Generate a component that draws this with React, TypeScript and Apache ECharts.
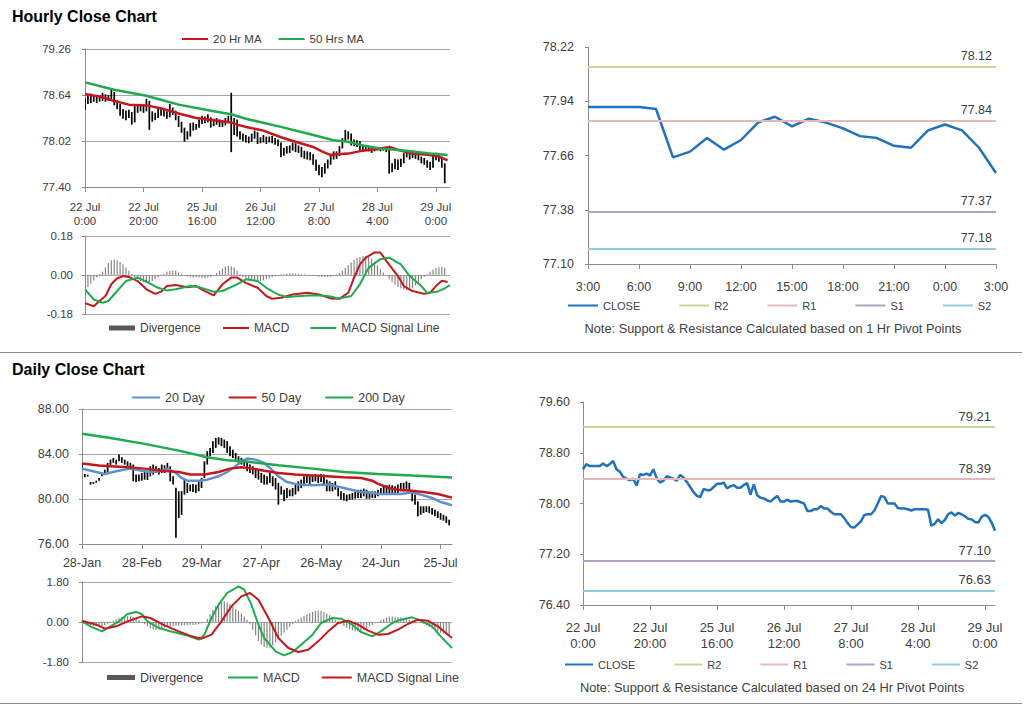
import React, { useEffect, useRef } from "react";
import * as echarts from "echarts";

const FONT = '"Liberation Sans", Arial, Helvetica, sans-serif';
const TXT = "#404040";
const AXIS_C = "#8c8c8c";
const GRID_C = "#a6a6a6";

// ---------- tick labels ----------
const hourlyTickIdx = [0, 20, 40, 60, 80, 100, 120];
const hourlyTickLabels = ["22 Jul\n0:00", "22 Jul\n20:00", "25 Jul\n16:00", "26 Jul\n12:00", "27 Jul\n8:00", "28 Jul\n4:00", "29 Jul\n0:00"];
const lastDayTickLabels = ["3:00", "6:00", "9:00", "12:00", "15:00", "18:00", "21:00", "0:00", "3:00"];
const dailyTickIdx = [0, 21, 42, 63, 84, 105, 126];
const dailyTickLabels = ["28-Jan", "28-Feb", "29-Mar", "27-Apr", "26-May", "24-Jun", "25-Jul"];
const hourlyPriceTicks = [77.4, 78.02, 78.64, 79.26];
const lastDayPriceTicks = [77.1, 77.38, 77.66, 77.94, 78.22];
const hourlyClosePriceTicks = [76.4, 77.2, 78.0, 78.8, 79.6];

// ---------- pivots ----------
const pivotNames = ["R2", "R1", "S1", "S2"];
const pivotColors = ["#c3d69b", "#e6b9b8", "#b3a2c7", "#93cddd"];
const hourPivotValues = [78.12, 77.84, 77.37, 77.18];
const dayPivotValues = [79.21, 78.39, 77.1, 76.63];

// ---------- hourly data (22 Jul 0:00 = index 0) ----------
const lastDayStart = 99; // 28 Jul 3:00
const hourlyClose = [
  78.54, 78.62, 78.59, 78.59, 78.59, 78.59, 78.63, 78.59, 78.62, 78.67,
  78.54, 78.50, 78.42, 78.39, 78.37, 78.39, 78.28, 78.46, 78.45, 78.47,
  78.44, 78.54, 78.40, 78.33, 78.36, 78.43, 78.41, 78.39, 78.36, 78.45,
  78.41, 78.34, 78.26, 78.18, 78.12, 78.10, 78.23, 78.21, 78.21, 78.26,
  78.31, 78.31, 78.33, 78.24, 78.27, 78.29, 78.25, 78.25, 78.29, 78.32,
  78.14, 78.30, 78.13, 78.09, 78.08, 78.05, 78.03, 78.08, 78.12, 78.03,
  78.03, 78.06, 78.03, 78.04, 78.04, 78.02, 78.00, 77.88, 77.88, 77.91,
  77.91, 77.96, 77.92, 77.92, 77.87, 77.83, 77.83, 77.83, 77.77, 77.69,
  77.63, 77.62, 77.67, 77.72, 77.82, 77.83, 77.83, 77.89, 78.00, 78.12,
  78.10, 78.00, 78.00, 78.00, 77.93, 77.92, 77.92, 77.91, 77.89, 77.91,
  77.91, 77.91, 77.91, 77.90, 77.65, 77.68, 77.75, 77.69, 77.74, 77.83,
  77.86, 77.81, 77.85, 77.83, 77.80, 77.76, 77.75, 77.71, 77.70, 77.79,
  77.82, 77.79, 77.70, 77.57,
];
const hourlyLow = [
  78.44, 78.52, 78.53, 78.55, 78.53, 78.55, 78.56, 78.55, 78.56, 78.58,
  78.50, 78.45, 78.36, 78.32, 78.30, 78.33, 78.24, 78.27, 78.40, 78.42,
  78.40, 78.42, 78.17, 78.28, 78.30, 78.33, 78.36, 78.35, 78.32, 78.34,
  78.37, 78.30, 78.21, 78.13, 78.01, 78.04, 78.08, 78.16, 78.17, 78.20,
  78.25, 78.26, 78.27, 78.20, 78.22, 78.24, 78.21, 78.21, 78.23, 78.26,
  77.87, 78.10, 78.08, 78.04, 78.02, 78.00, 77.99, 78.01, 78.05, 77.98,
  77.99, 78.00, 77.98, 78.00, 77.99, 77.97, 77.95, 77.80, 77.82, 77.85,
  77.86, 77.89, 77.87, 77.86, 77.80, 77.78, 77.77, 77.76, 77.70, 77.62,
  77.56, 77.53, 77.58, 77.65, 77.70, 77.77, 77.78, 77.82, 77.92, 78.02,
  78.04, 77.96, 77.95, 77.94, 77.90, 77.89, 77.89, 77.88, 77.86, 77.88,
  77.89, 77.88, 77.89, 77.87, 77.58, 77.60, 77.64, 77.63, 77.67, 77.72,
  77.80, 77.77, 77.79, 77.78, 77.76, 77.72, 77.70, 77.66, 77.63, 77.66,
  77.76, 77.74, 77.66, 77.45,
];
const hourlyHigh = [
  78.60, 78.66, 78.66, 78.63, 78.64, 78.63, 78.67, 78.65, 78.64, 78.71,
  78.68, 78.57, 78.52, 78.45, 78.43, 78.44, 78.41, 78.49, 78.50, 78.52,
  78.50, 78.59, 78.56, 78.42, 78.40, 78.47, 78.46, 78.44, 78.42, 78.52,
  78.47, 78.43, 78.36, 78.28, 78.20, 78.15, 78.26, 78.27, 78.25, 78.31,
  78.36, 78.35, 78.38, 78.34, 78.32, 78.33, 78.31, 78.30, 78.33, 78.36,
  78.67, 78.33, 78.31, 78.15, 78.12, 78.10, 78.08, 78.12, 78.16, 78.14,
  78.07, 78.10, 78.08, 78.08, 78.09, 78.06, 78.04, 78.00, 77.93, 77.95,
  77.96, 78.00, 77.99, 77.96, 77.94, 77.89, 77.88, 77.87, 77.84, 77.77,
  77.70, 77.67, 77.72, 77.77, 77.85, 77.88, 77.88, 77.95, 78.06, 78.17,
  78.15, 78.12, 78.04, 78.03, 78.02, 77.97, 77.96, 77.95, 77.94, 77.94,
  77.94, 77.94, 77.94, 77.94, 77.92, 77.72, 77.78, 77.77, 77.78, 77.86,
  77.90, 77.88, 77.89, 77.88, 77.85, 77.81, 77.79, 77.76, 77.74, 77.82,
  77.86, 77.83, 77.81, 77.72,
];
const ma20Hourly = [
  [0, 78.65], [5, 78.62], [10, 78.56], [15, 78.51], [21, 78.5], [27, 78.45], [32, 78.39],
  [38, 78.33], [44, 78.3], [50, 78.27], [52, 78.24], [55, 78.21], [61, 78.16], [67, 78.07],
  [72, 78.01], [78, 77.94], [81, 77.88], [84, 77.83], [86, 77.84], [90, 77.85], [95, 77.89],
  [101, 77.92], [104, 77.94], [108, 77.89], [112, 77.85], [118, 77.83], [121, 77.81], [124, 77.76],
];
const ma50Hourly = [
  [0, 78.81], [10, 78.71], [21, 78.63], [32, 78.51], [44, 78.42], [50, 78.38], [55, 78.32],
  [67, 78.21], [78, 78.1], [85, 78.03], [90, 78.01], [95, 77.96], [101, 77.92], [107, 77.9],
  [112, 77.88], [118, 77.85], [124, 77.83],
];
const macdHourly = [
  [0, -0.13], [3, -0.144], [5, -0.12], [7, -0.097], [9, -0.043], [11, -0.015], [13, -0.005],
  [15, -0.009], [18, -0.028], [21, -0.066], [24, -0.087], [26, -0.077], [28, -0.051], [31, -0.046],
  [35, -0.056], [38, -0.051], [41, -0.074], [44, -0.094], [47, -0.043], [50, -0.012], [52, -0.012],
  [55, -0.036], [59, -0.059], [62, -0.097], [64, -0.11], [67, -0.105], [71, -0.09], [76, -0.082],
  [80, -0.09], [84, -0.108], [87, -0.11], [90, -0.082], [92, -0.012], [94, 0.049], [96, 0.08],
  [99, 0.104], [101, 0.104], [103, 0.065], [107, -0.005], [109, -0.051], [112, -0.074],
  [116, -0.087], [118, -0.082], [120, -0.051], [122, -0.027], [124, -0.032],
];
const signalHourly = [
  [0, -0.066], [3, -0.113], [6, -0.128], [8, -0.12], [11, -0.074], [14, -0.028], [18, -0.012],
  [21, -0.031], [25, -0.059], [28, -0.071], [31, -0.066], [36, -0.051], [39, -0.056], [44, -0.077],
  [47, -0.074], [52, -0.043], [55, -0.02], [59, -0.028], [62, -0.059], [66, -0.09], [69, -0.102],
  [74, -0.097], [78, -0.093], [83, -0.097], [87, -0.108], [91, -0.097], [94, -0.043], [97, 0.034],
  [101, 0.073], [104, 0.08], [108, 0.049], [111, -0.005], [115, -0.051], [117, -0.082],
  [120, -0.079], [123, -0.062], [124.8, -0.046],
];
const divergenceHourly = [
  -0.065, -0.055, -0.04, -0.025, -0.01, 0.005, 0.015, 0.035, 0.055, 0.068,
  0.072, 0.068, 0.06, 0.05, 0.035, 0.02, 0.005, -0.01, -0.02, -0.028,
  -0.033, -0.036, -0.033, -0.028, -0.02, -0.012, -0.005, 0.005, 0.015, 0.02,
  0.022, 0.02, 0.012, 0.004, -0.004, -0.008, -0.01, -0.012, -0.01, -0.012,
  -0.014, -0.015, -0.012, -0.008, -0.002, 0.008, 0.02, 0.03, 0.038, 0.042,
  0.04, 0.035, 0.02, 0.005, -0.008, -0.015, -0.022, -0.025, -0.028, -0.03,
  -0.028, -0.025, -0.02, -0.015, -0.01, -0.006, -0.003, 0.002, 0.004, 0.006,
  0.008, 0.008, 0.006, 0.005, 0.003, 0.002, -0.002, -0.004, -0.005, -0.006,
  -0.008, -0.009, -0.01, -0.01, -0.008, -0.004, 0.002, 0.01, 0.02, 0.032,
  0.045, 0.058, 0.07, 0.078, 0.083, 0.086, 0.086, 0.083, 0.075, 0.062,
  0.045, 0.028, 0.012, -0.005, -0.02, -0.033, -0.045, -0.055, -0.062, -0.068,
  -0.07, -0.068, -0.06, -0.048, -0.035, -0.02, -0.008, 0.005, 0.015, 0.025,
  0.032, 0.036, 0.037, 0.033,
];

// ---------- daily data (28-Jan = index 0) ----------
const dailyLow = [
  82.61, 81.93, 81.99, 81.28, 81.34, 81.45, 81.63, 82.02, 82.17, 82.31,
  82.91, 83.21, 83.06, 83.35, 83.21, 83.06, 82.91, 82.70, 81.57, 81.51,
  81.57, 81.63, 81.72, 81.69, 82.02, 82.17, 82.31, 82.17, 82.31, 82.31,
  82.46, 81.57, 81.28, 76.55, 78.30, 78.60, 80.39, 80.53, 80.68, 80.62,
  80.53, 80.68, 80.98, 81.87, 83.06, 83.80, 84.10, 84.54, 84.84, 84.69,
  84.54, 84.10, 83.80, 83.65, 83.50, 83.21, 83.06, 82.91, 82.46, 82.31,
  82.17, 81.87, 81.72, 81.43, 81.28, 81.28, 81.43, 81.13, 80.83, 79.50,
  80.39, 79.79, 80.09, 80.24, 80.24, 80.39, 80.68, 80.98, 81.13, 81.43,
  81.28, 81.51, 81.57, 81.43, 81.51, 81.28, 80.68, 80.68, 80.68, 80.83,
  80.24, 79.94, 79.85, 79.79, 79.94, 79.94, 80.03, 80.09, 80.09, 80.24,
  80.03, 80.03, 80.09, 80.09, 80.24, 80.39, 80.39, 80.53, 80.53, 80.53,
  80.45, 80.53, 80.68, 80.68, 80.83, 80.68, 79.79, 79.50, 78.46, 78.60,
  78.75, 78.84, 78.75, 78.60, 78.46, 78.31, 78.16, 78.07, 77.86, 77.66,
];
const dailyHigh = [
  83.21, 82.23, 82.17, 81.51, 81.51, 81.63, 81.87, 82.31, 82.61, 83.21,
  83.50, 83.65, 83.50, 83.95, 83.71, 83.50, 83.35, 83.21, 83.06, 82.17,
  82.17, 82.31, 82.46, 82.40, 82.91, 83.06, 82.91, 82.76, 83.06, 83.00,
  83.21, 82.91, 82.02, 81.00, 80.68, 80.70, 81.72, 81.43, 81.28, 81.34,
  81.28, 81.51, 81.87, 83.35, 84.25, 84.54, 85.14, 85.43, 85.49, 85.43,
  85.28, 85.14, 84.69, 84.39, 84.10, 83.80, 83.65, 83.35, 83.35, 83.06,
  82.91, 82.76, 82.61, 82.31, 82.17, 82.02, 82.31, 82.02, 81.87, 81.43,
  81.13, 80.83, 80.98, 80.83, 80.98, 81.28, 81.57, 81.72, 82.02, 82.17,
  82.02, 82.17, 82.23, 82.17, 82.23, 82.17, 81.72, 81.57, 81.43, 81.57,
  81.13, 80.68, 80.53, 80.39, 80.44, 80.53, 80.68, 80.83, 80.83, 80.92,
  80.83, 80.68, 80.68, 80.68, 80.83, 80.98, 81.13, 81.22, 81.28, 81.22,
  81.13, 81.28, 81.43, 81.43, 81.57, 81.43, 80.68, 80.39, 79.79, 79.35,
  79.35, 79.35, 79.35, 79.20, 79.05, 78.90, 78.75, 78.60, 78.46, 78.16,
];
const ma20Daily = [
  [0, 82.7], [5, 82.4], [8, 82.23], [12, 82.46], [15, 82.61], [17, 82.7], [21, 82.52], [24, 82.4],
  [28, 82.52], [30, 82.7], [33, 82.31], [35, 81.87], [37, 81.63], [41, 81.63], [44, 81.72],
  [48, 82.02], [51, 82.4], [54, 82.91], [56, 83.35], [58, 83.59], [61, 83.5], [64, 83.21],
  [66, 82.76], [69, 82.02], [72, 81.51], [76, 81.28], [81, 81.22], [87, 81.28], [92, 80.98],
  [98, 80.62], [102, 80.53], [105, 80.45], [109, 80.45], [112, 80.45], [116, 80.59],
  [119, 80.39], [123, 80.09], [126, 79.73], [130, 79.45],
];
const ma50Daily = [
  [0, 83.15], [6, 82.97], [10, 82.91], [16, 82.82], [22, 82.7], [28, 82.52], [34, 82.4],
  [38, 82.17], [43, 82.17], [48, 82.4], [52, 82.7], [56, 82.82], [60, 82.7], [64, 82.52],
  [69, 82.31], [75, 82.17], [81, 82.08], [86, 82.02], [92, 81.93], [98, 81.87], [102, 81.63],
  [104, 81.34], [108, 80.98], [111, 80.83], [116, 80.74], [120, 80.62], [125, 80.45], [130, 80.12],
];
const ma200Daily = [
  [0, 85.79], [10, 85.43], [22, 84.9], [34, 84.3], [44, 83.71], [51, 83.44], [57, 83.35],
  [69, 83.0], [81, 82.7], [92, 82.4], [104, 82.23], [116, 82.08], [130, 81.92],
];
const macdDaily = [
  [0, 0.03], [3, -0.195], [7, -0.42], [9, -0.27], [13, 0.03], [16, 0.36], [19, 0.45], [21, 0.36],
  [23, 0.03], [27, -0.27], [31, -0.42], [36, -0.57], [41, -0.795], [43, -0.57], [45.5, 0.18],
  [48, 0.78], [51, 1.305], [55, 1.605], [57, 1.455], [59.5, 0.78], [62, -0.12], [64, -0.72],
  [68, -1.32], [71, -1.5], [74, -1.35], [77, -1.02], [81, -0.57], [84, -0.045], [88, 0.18],
  [91, 0.15], [95, -0.12], [98, -0.45], [102, -0.645], [105, -0.42], [109, -0.045], [112, 0.105],
  [116, 0.21], [119, 0.06], [123, -0.195], [126, -0.645], [130, -1.17],
];
const signalDaily = [
  [0, 0.06], [5, -0.12], [8, -0.3], [12, -0.195], [16, 0.03], [21, 0.255], [24, 0.18], [29, -0.15],
  [34, -0.42], [38.5, -0.645], [42, -0.75], [45.5, -0.57], [49, 0.03], [52.5, 0.705], [56, 1.155],
  [59, 1.305], [62, 1.005], [65.5, 0.18], [69, -0.72], [72.5, -1.17], [76, -1.35], [79.5, -1.245],
  [83, -0.87], [86.5, -0.42], [90, -0.045], [93.5, 0.06], [97, -0.12], [100.5, -0.39], [104, -0.57],
  [107.5, -0.54], [111, -0.345], [114.5, -0.09], [118, 0.105], [121.5, 0.06], [125, -0.195],
  [130, -0.72],
];
const divergenceDaily = [
  -0.02, -0.06, -0.1, -0.14, -0.17, -0.19, -0.2, -0.18, -0.14, -0.08,
  0.0, 0.06, 0.12, 0.18, 0.22, 0.25, 0.26, 0.25, 0.22, 0.16, 0.08, 0.0,
  -0.1, -0.2, -0.28, -0.33, -0.35, -0.34, -0.3, -0.26, -0.22, -0.2, -0.18, -0.17, -0.17, -0.16,
  -0.15, -0.15, -0.14, -0.13, -0.12, -0.1, -0.06, 0.0,
  0.15, 0.35, 0.55, 0.72, 0.85, 0.92, 0.93, 0.88, 0.8, 0.7, 0.6, 0.5, 0.38, 0.25, 0.1,
  -0.1, -0.35, -0.6, -0.85, -1.02, -1.12, -1.17, -1.15, -1.05, -0.92, -0.78, -0.62, -0.48, -0.35, -0.22, -0.1,
  0.05, 0.12, 0.2, 0.28, 0.35, 0.4, 0.45, 0.5, 0.52, 0.5, 0.45, 0.38, 0.3, 0.2, 0.1, 0.02,
  -0.08, -0.18, -0.26, -0.33, -0.38, -0.42, -0.42, -0.4, -0.35, -0.28, -0.2, -0.13, -0.06, 0.0,
  0.08, 0.15, 0.2, 0.24, 0.25, 0.24, 0.22, 0.2, 0.17, 0.14, 0.1, 0.07, 0.04, 0.01, -0.02,
  -0.08, -0.15, -0.22, -0.3, -0.36, -0.42, -0.48, -0.52, -0.56, -0.6,
];

// ---------- colours ----------
const RED = "#c8161d";
const GREEN = "#1faa4f";
const BLUE_MA = "#5e8fd0";
const CLOSE_C = "#1f72bb";

// ---------- helpers ----------
const labelStyle = (size: number) => ({ color: TXT, fontSize: size, fontFamily: FONT });

function buildOption(): any {
  const barRender = (_p: any, api: any) => {
    const x = api.value(0);
    const lo = api.coord([x, api.value(1)]);
    const hi = api.coord([x, api.value(2)]);
    return {
      type: "line",
      shape: { x1: lo[0], y1: lo[1], x2: hi[0], y2: hi[1] },
      style: { stroke: "#000", lineWidth: 1.7 },
    };
  };
  const divRender = (_p: any, api: any) => {
    const x = api.value(0);
    const p0 = api.coord([x, 0]);
    const p1 = api.coord([x, api.value(1)]);
    return {
      type: "rect",
      shape: { x: p0[0] - 0.6, y: Math.min(p0[1], p1[1]), width: 1.2, height: Math.max(0.5, Math.abs(p1[1] - p0[1])) },
      style: { fill: "#858585" },
    };
  };
  const lineS = (name: string, gi: number, data: any[], color: string, width: number, z = 3) => ({
    name, type: "line", xAxisIndex: gi, yAxisIndex: gi, data, symbol: "none", showSymbol: false,
    color, lineStyle: { color, width }, z, clip: true,
  });
  const pivotSeries = (gi: number, suffix: string, values: number[], size: number) =>
    pivotNames.map((n, k) => ({
      name: n + suffix, type: "line", xAxisIndex: gi, yAxisIndex: gi, data: [], color: pivotColors[k],
      lineStyle: { color: pivotColors[k], width: 2 },
      markLine: {
        silent: true, symbol: ["none", "none"],
        data: [{ yAxis: values[k] }],
        lineStyle: { color: pivotColors[k], width: 2, type: "solid" },
        label: { show: true, position: "insideEndTop", formatter: values[k].toFixed(2), distance: [4, 4], ...labelStyle(size) },
      },
    }));

  const xValAxis = (gi: number, min: number, max: number, ticks: number[] | null, fmt: ((v: number) => string) | null, size: number, margin: number, lineHeight: number, show = true) => ({
    type: "value", gridIndex: gi, min, max,
    axisLine: { show, onZero: false, lineStyle: { color: AXIS_C } },
    axisTick: { show, length: 5, lineStyle: { color: AXIS_C }, ...(ticks ? { customValues: ticks } : {}) },
    axisLabel: { show: show && !!fmt, ...(ticks ? { customValues: ticks } : {}), formatter: fmt || undefined, margin, lineHeight, ...labelStyle(size) },
    splitLine: { show: false },
  });
  const yValAxis = (gi: number, min: number, max: number, ticks: number[] | null, interval: number | null, split: boolean, size: number, margin: number) => ({
    type: "value", gridIndex: gi, min, max, ...(interval ? { interval } : {}),
    axisLine: { show: true, onZero: false, lineStyle: { color: AXIS_C } },
    axisTick: { show: true, length: 3, lineStyle: { color: AXIS_C }, ...(ticks ? { customValues: ticks } : {}) },
    axisLabel: { ...(ticks ? { customValues: ticks } : {}), formatter: (v: number) => v.toFixed(2), margin, ...labelStyle(size) },
    splitLine: { show: split, lineStyle: { color: GRID_C, width: 1 } },
  });

  const strip = (n: string) => n.split("|")[0];
  const lineLegend = (left: number, top: number, data: string[], gap: number, w: number, size: number) => ({
    left, top, padding: 0, data, icon: "rect", itemWidth: w, itemHeight: 2, itemGap: gap, selectedMode: false,
    itemStyle: { borderWidth: 0 }, formatter: strip, textStyle: labelStyle(size),
  });
  const divLegend = (left: number, top: number, name: string, w: number, size: number) => ({
    left, top, padding: 0, data: [name], icon: "rect", itemWidth: w, itemHeight: 5, selectedMode: false,
    itemStyle: { borderWidth: 0 }, formatter: strip, textStyle: labelStyle(size),
  });

  const hourFmt = (v: number) => { const k = hourlyTickIdx.indexOf(Math.round(v)); return k >= 0 ? hourlyTickLabels[k] : ""; };
  const dayFmt = (v: number) => { const k = dailyTickIdx.indexOf(Math.round(v)); return k >= 0 ? dailyTickLabels[k] : ""; };
  const lastFmt = (v: number) => lastDayTickLabels[Math.round(v / 3)] ?? "";

  const hourlyBars = hourlyLow.map((lo, i) => [i, lo, hourlyHigh[i]]);
  const dailyBars = dailyLow.map((lo, i) => [i, lo, dailyHigh[i]]);
  const hourlyDiv = divergenceHourly.map((v, i) => [i, v]);
  const dailyDiv = divergenceDaily.map((v, i) => [i, v]);
  const lastDay = hourlyClose.slice(lastDayStart).map((v, h) => [h, v]);
  const hourlyCloseLine = hourlyClose.map((v, i) => [i, v]);

  return {
    animation: false,
    backgroundColor: "#ffffff",
    textStyle: { fontFamily: FONT },
    grid: [
      { left: 85, top: 49, width: 365, height: 138 },
      { left: 85, top: 236, width: 365, height: 78 },
      { left: 588, top: 47, width: 408, height: 217 },
      { left: 82, top: 409, width: 370, height: 135 },
      { left: 82, top: 582, width: 370, height: 80 },
      { left: 583, top: 402, width: 412, height: 203 },
    ],
    xAxis: [
      xValAxis(0, 0, 124.8, hourlyTickIdx, hourFmt, 11.5, 13, 14),
      xValAxis(1, 0, 124.8, null, null, 11, 8, 14, false),
      { ...xValAxis(2, 0, 24, null, lastFmt, 12.5, 15, 15), interval: 3 },
      xValAxis(3, 0, 130, dailyTickIdx, dayFmt, 12.5, 11, 15),
      xValAxis(4, 0, 130, null, null, 11, 8, 14, false),
      xValAxis(5, 0, 123, hourlyTickIdx, hourFmt, 13, 15, 15.5),
    ],
    yAxis: [
      yValAxis(0, 77.4, 79.26, hourlyPriceTicks, null, true, 11.5, 14),
      yValAxis(1, -0.18, 0.18, null, 0.18, true, 11.5, 12),
      yValAxis(2, 77.1, 78.22, lastDayPriceTicks, null, false, 12.5, 14),
      yValAxis(3, 76, 88, null, 4, true, 12.5, 13),
      yValAxis(4, -1.8, 1.8, null, 1.8, true, 11.5, 13),
      yValAxis(5, 76.4, 79.6, hourlyClosePriceTicks, null, false, 12.5, 13),
    ],
    legend: [
      lineLegend(182, 33, ["20 Hr MA", "50 Hrs MA"], 17, 26, 11.5),
      divLegend(109, 322, "Divergence|h", 26, 12),
      lineLegend(223, 322, ["MACD|h", "MACD Signal Line|h"], 21, 26, 12),
      lineLegend(568, 300, ["CLOSE|h", "R2|h", "R1|h", "S1|h", "S2|h"], 39, 30, 11),
      lineLegend(132, 391, ["20 Day", "50 Day", "200 Day"], 24, 28, 12.5),
      divLegend(107, 671, "Divergence|d", 28, 12.5),
      lineLegend(228, 671, ["MACD|d", "MACD Signal Line|d"], 22, 30, 12.5),
      lineLegend(565, 659, ["CLOSE|d", "R2|d", "R1|d", "S1|d", "S2|d"], 39, 28, 11),
    ],
    series: [
      // hourly price
      { name: "Hourly bars", type: "custom", xAxisIndex: 0, yAxisIndex: 0, data: hourlyBars, renderItem: barRender, encode: { x: 0, y: [1, 2] }, clip: true, z: 2 },
      lineS("20 Hr MA", 0, ma20Hourly, RED, 2.5),
      lineS("50 Hrs MA", 0, ma50Hourly, GREEN, 2.5),
      // hourly MACD
      { name: "Divergence|h", type: "custom", xAxisIndex: 1, yAxisIndex: 1, data: hourlyDiv, color: "#595959", renderItem: divRender, encode: { x: 0, y: 1 }, clip: true, z: 2 },
      lineS("MACD|h", 1, macdHourly, RED, 2),
      lineS("MACD Signal Line|h", 1, signalHourly, GREEN, 2),
      // last day close
      lineS("CLOSE|h", 2, lastDay, CLOSE_C, 2.5, 4),
      ...pivotSeries(2, "|h", hourPivotValues, 12.5),
      // daily price
      { name: "Daily bars", type: "custom", xAxisIndex: 3, yAxisIndex: 3, data: dailyBars, renderItem: barRender, encode: { x: 0, y: [1, 2] }, clip: true, z: 2 },
      lineS("20 Day", 3, ma20Daily, BLUE_MA, 2.5),
      lineS("50 Day", 3, ma50Daily, RED, 2.5),
      lineS("200 Day", 3, ma200Daily, GREEN, 2.5),
      // daily MACD
      { name: "Divergence|d", type: "custom", xAxisIndex: 4, yAxisIndex: 4, data: dailyDiv, color: "#595959", renderItem: divRender, encode: { x: 0, y: 1 }, clip: true, z: 2 },
      lineS("MACD|d", 4, macdDaily, GREEN, 2),
      lineS("MACD Signal Line|d", 4, signalDaily, RED, 2),
      // hourly close
      lineS("CLOSE|d", 5, hourlyCloseLine, CLOSE_C, 2.5, 4),
      ...pivotSeries(5, "|d", dayPivotValues, 13),
    ],
    graphic: [
      { type: "text", x: 12, y: 16, style: { text: "Hourly Close Chart", fontSize: 16, fontWeight: "bold", fontFamily: FONT, fill: "#000", verticalAlign: "middle" } },
      { type: "text", x: 12, y: 369, style: { text: "Daily Close Chart", fontSize: 16, fontWeight: "bold", fontFamily: FONT, fill: "#000", verticalAlign: "middle" } },
      { type: "text", x: 773, y: 328, style: { text: "Note: Support & Resistance Calculated based on 1 Hr Pivot Points", fontSize: 12.8, fontFamily: FONT, fill: TXT, align: "center", verticalAlign: "middle" } },
      { type: "text", x: 772, y: 687, style: { text: "Note: Support & Resistance Calculated based on 24 Hr Pivot Points", fontSize: 12.8, fontFamily: FONT, fill: TXT, align: "center", verticalAlign: "middle" } },
      { type: "line", shape: { x1: 0, y1: 352.5, x2: 1022, y2: 352.5 }, style: { stroke: "#8c8c8c", lineWidth: 1 } },
      { type: "line", shape: { x1: 0, y1: 703.5, x2: 1022, y2: 703.5 }, style: { stroke: "#8c8c8c", lineWidth: 1 } },
    ],
  };
}

export default function App() {
  const ref = useRef<HTMLDivElement>(null);
  useEffect(() => {
    if (!ref.current) return;
    const chart = echarts.init(ref.current, null, { renderer: "svg" });
    chart.setOption(buildOption());
    return () => chart.dispose();
  }, []);
  return (
    <div
      ref={ref}
      style={{ position: "absolute", left: 0, top: 0, width: 1024, height: 706, background: "#fff" }}
    />
  );
}
